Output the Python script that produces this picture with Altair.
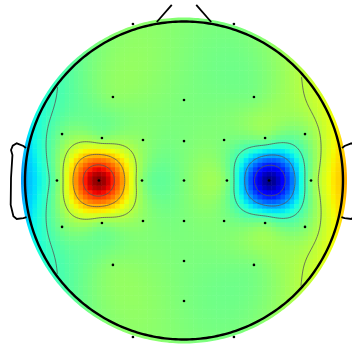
import numpy as np
import pandas as pd
import altair as alt

# ---------------- data (head units: centre 0,0, head radius 1) ----------------
ELEC_X = [-0.321, 0.314,
          -0.447, 0.000, 0.440,
          -0.767, -0.516, -0.258, 0.000, 0.252, 0.510, 0.761,
          -0.799, -0.535, -0.264, 0.000, 0.270, 0.535, 0.799,
          -0.767, -0.516, -0.258, 0.000, 0.252, 0.510, 0.761,
          -0.447, 0.000, 0.440,
          0.000,
          -0.321, 0.314]
ELEC_Y = [0.984, 0.984,
          0.525, 0.506, 0.525,
          0.292, 0.267, 0.255, 0.248, 0.255, 0.267, 0.292,
          0.000, 0.000, 0.000, 0.000, 0.000, 0.000, 0.000,
          -0.292, -0.267, -0.255, -0.255, -0.255, -0.267, -0.292,
          -0.531, -0.506, -0.531,
          -0.758,
          -0.984, -0.984]
ELEC_VAL = [0.04, 0.0,
            0.04, 0.0, 0.0,
            -0.01, 0.04, 0.04, 0.0, 0.0, 0.0, 0.015,
            -0.01, 1.0, 0.03, 0.0, 0.0, -1.0, 0.015,
            -0.01, 0.04, 0.04, 0.0, 0.0, 0.0, 0.015,
            0.04, 0.0, 0.0,
            0.0,
            0.04, 0.0]

# ---------------- interpolation (thin plate spline) ----------------
px = np.array(ELEC_X)
py = np.array(ELEC_Y)
pv = np.array(ELEC_VAL)


def phi(r):
    with np.errstate(divide="ignore", invalid="ignore"):
        out = np.where(r > 0, r * r * np.log(r), 0.0)
    return out


n = len(px)
D = np.hypot(px[:, None] - px[None, :], py[:, None] - py[None, :])
K = phi(D)
P = np.column_stack([np.ones(n), px, py])
A = np.zeros((n + 3, n + 3))
A[:n, :n] = K
A[:n, n:] = P
A[n:, :n] = P.T
rhs = np.concatenate([pv, np.zeros(3)])
sol = np.linalg.solve(A, rhs)
w, a = sol[:n], sol[n:]


def field(gx, gy):
    r = np.hypot(gx[..., None] - px, gy[..., None] - py)
    return phi(r) @ w + a[0] + a[1] * gx + a[2] * gy


vmax = np.max(np.abs(pv))


def jet(t):
    t = np.clip(t, 0, 1)
    r = np.interp(t, [0, 0.35, 0.66, 0.89, 1], [0, 0, 1, 1, 0.5])
    g = np.interp(t, [0, 0.125, 0.375, 0.64, 0.91, 1], [0, 0, 1, 1, 0, 0])
    b = np.interp(t, [0, 0.11, 0.34, 0.65, 1], [0.5, 1, 1, 0, 0])
    return ["#%02x%02x%02x" % (int(round(R * 255)), int(round(G * 255)), int(round(B * 255)))
            for R, G, B in zip(r, g, b)]


# image cells
NC = 72
lim = 1.04
cell = 2 * lim / NC
cc = -lim + (np.arange(NC) + 0.5) * cell
GX, GY = np.meshgrid(cc, cc)
keep = np.hypot(GX, GY) <= 1.07
gx, gy = GX[keep], GY[keep]
gv = field(gx, gy)
cells = pd.DataFrame({
    "x": gx - cell / 2, "x2": gx + cell / 2 + cell * 0.12,
    "y": gy - cell / 2 - cell * 0.12, "y2": gy + cell / 2,
    "c": jet(0.5 + 0.5 * gv / vmax),
})

# contours (marching squares)
NF = 161
fc = np.linspace(-1.0, 1.0, NF)
FX, FY = np.meshgrid(fc, fc)
FV = field(FX, FY)
FV[np.hypot(FX, FY) > 0.995] = np.nan
levels = np.linspace(-vmax, vmax, 8)[1:-1]
segs = []
for lev in levels:
    for i in range(NF - 1):
        for j in range(NF - 1):
            v = [FV[i, j], FV[i, j + 1], FV[i + 1, j + 1], FV[i + 1, j]]
            if np.any(np.isnan(v)):
                continue
            cx = [fc[j], fc[j + 1], fc[j + 1], fc[j]]
            cy = [fc[i], fc[i], fc[i + 1], fc[i + 1]]
            pts = []
            for k in range(4):
                k2 = (k + 1) % 4
                v1, v2 = v[k], v[k2]
                if (v1 - lev) * (v2 - lev) < 0:
                    t = (lev - v1) / (v2 - v1)
                    pts.append((cx[k] + t * (cx[k2] - cx[k]), cy[k] + t * (cy[k2] - cy[k])))
            if len(pts) == 2:
                segs.append((pts[0][0], pts[0][1], pts[1][0], pts[1][1]))
            elif len(pts) == 4:
                segs.append((pts[0][0], pts[0][1], pts[1][0], pts[1][1]))
                segs.append((pts[2][0], pts[2][1], pts[3][0], pts[3][1]))
segdf = pd.DataFrame(segs, columns=["x", "y", "x2", "y2"])

# outlines
ang = np.linspace(0, 2 * np.pi, 361)
head = pd.DataFrame({"x": np.cos(ang), "y": np.sin(ang), "o": np.arange(361)})
mask = pd.DataFrame({"x": 1.088 * np.cos(ang), "y": 1.088 * np.sin(ang), "o": np.arange(361)})
NOSE_X = [-0.171, -0.077]
NOSE_Y = [0.997, 1.104]
nose = pd.DataFrame({"x": NOSE_X + [-v for v in NOSE_X], "y": NOSE_Y + NOSE_Y,
                     "side": ["l", "l", "r", "r"], "o": [0, 1, 0, 1]})
EAR_X = [0.994, 1.010, 1.052, 1.077, 1.088, 1.079, 1.088, 1.090, 1.073, 1.052, 1.010, 0.990]
EAR_Y = [0.204, 0.217, 0.234, 0.219, 0.192, 0.160, 0.016, -0.154, -0.225, -0.242, -0.236, -0.230]
ears = pd.DataFrame({
    "x": [-v for v in EAR_X] + EAR_X, "y": EAR_Y + EAR_Y,
    "side": ["l"] * len(EAR_X) + ["r"] * len(EAR_X),
    "o": list(range(len(EAR_X))) * 2})
elec = pd.DataFrame({"x": ELEC_X, "y": ELEC_Y})

XS = alt.Scale(domain=[-184 / 159, 168 / 159], nice=False, zero=False)
YS = alt.Scale(domain=[(180.5 - 345) / 159, 180.5 / 159], nice=False, zero=False)
X = lambda f="x": alt.X(f + ":Q", scale=XS, axis=None)
Y = lambda f="y": alt.Y(f + ":Q", scale=YS, axis=None)

img = alt.Chart(cells).mark_rect().encode(
    x=X(), x2="x2", y=Y(), y2="y2", color=alt.Color("c:N", scale=None))
cont = alt.Chart(segdf).mark_rule(color="#555555", strokeWidth=0.8).encode(
    x=X(), y=Y(), x2="x2", y2="y2")
ring = alt.Chart(mask).mark_line(color="white", strokeWidth=20).encode(
    x=X(), y=Y(), order="o:Q")
hd = alt.Chart(head).mark_line(color="black", strokeWidth=2.4).encode(
    x=X(), y=Y(), order="o:Q")
ns = alt.Chart(nose).mark_line(color="black", strokeWidth=1.8).encode(
    x=X(), y=Y(), detail="side:N", order="o:Q")
er = alt.Chart(ears).mark_line(color="black", strokeWidth=1.8).encode(
    x=X(), y=Y(), detail="side:N", order="o:Q")
dots = alt.Chart(elec).mark_circle(color="black", size=7, opacity=1).encode(x=X(), y=Y())

chart = alt.layer(img, cont, ring, hd, ns, er, dots).properties(
    width=352, height=345, padding=0,
    autosize=alt.AutoSizeParams(type="none"),
).configure_view(stroke=None)

chart.save("out.html", embed_options={"renderer": "svg", "actions": False})
